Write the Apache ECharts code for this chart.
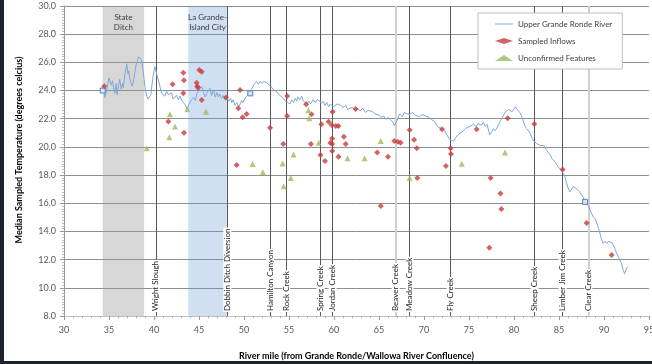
<!DOCTYPE html>
<html>
<head>
<meta charset="utf-8">
<script src="https://cdn.jsdelivr.net/npm/echarts@6/dist/echarts.min.js"></script>
<style>
html,body{margin:0;padding:0;background:#1d2329;width:652px;height:364px;overflow:hidden;}
#c{position:absolute;left:4px;top:0;width:648px;height:361px;background:#fff;}
</style>
</head>
<body>
<div id="c"></div>
<script>
// River profile (river mile, median temperature)
const riverMile = [
34.3,34.45,34.55,34.7,34.85,35.0,35.1,35.25,35.4,35.5,
35.65,35.8,35.9,36.05,36.2,36.35,36.5,36.6,36.75,36.9,
36.97,37.1,37.2,37.3,37.45,37.6,37.7,37.85,38.0,38.15,
38.3,38.4,38.5,38.6,38.75,38.9,39.05,39.2,39.35,39.5,
39.65,39.75,39.9,40.0,40.1,40.25,40.4,40.5,40.7,40.85,
41.0,41.2,41.4,41.6,41.8,41.95,42.1,42.3,42.5,42.7,
42.9,43.1,43.25,43.4,43.55,43.7,43.9,44.05,44.2,44.4,
44.6,44.75,44.9,45.1,45.3,45.5,45.7,45.85,46.0,46.2,
46.4,46.6,46.8,47.0,47.15,47.3,47.5,47.7,47.9,48.1,
48.3,48.5,48.65,48.8,49.0,49.2,49.4,49.6,49.75,49.9,
50.1,50.3,50.5,50.7,50.85,51.0,51.2,51.4,51.6,51.8,
52.0,52.2,52.5,52.7,52.9,53.1,53.3,53.6,53.8,54.0,
54.2,54.4,54.6,54.8,55.1,55.3,55.5,55.7,55.85,56.0,
56.2,56.4,56.6,56.8,57.0,57.2,57.4,57.7,57.9,58.1,
58.4,58.6,58.8,59.0,59.2,59.4,59.6,59.9,60.1,60.4,
60.7,61.0,61.3,61.5,61.8,62.1,62.4,62.6,62.9,63.2,
63.5,63.8,64.0,64.3,64.5,64.7,65.0,65.2,65.5,65.8,
66.0,66.2,66.5,66.7,66.85,67.0,67.3,67.6,67.8,68.1,
68.4,68.7,69.0,69.2,69.5,69.8,70.0,70.3,70.6,70.8,
71.0,71.2,71.4,71.6,71.8,72.1,72.3,72.5,72.7,72.9,
73.1,73.3,73.5,73.7,74.0,74.2,74.4,74.7,74.9,75.1,
75.3,75.5,75.8,76.0,76.2,76.4,76.6,76.8,77.0,77.2,
77.3,77.5,77.7,77.9,78.1,78.3,78.5,78.8,79.0,79.2,
79.4,79.6,79.8,80.0,80.2,80.3,80.5,80.7,80.85,81.0,
81.2,81.4,81.6,81.8,82.0,82.2,82.5,82.7,82.9,83.1,
83.3,83.6,83.8,84.0,84.2,84.4,84.6,84.9,85.1,85.3,
85.5,85.7,85.85,86.0,86.2,86.4,86.6,86.8,87.0,87.3,
87.5,87.7,87.9,88.1,88.3,88.4,88.6,88.8,89.0,89.2,
89.4,89.6,89.75,89.9,90.1,90.3,90.5,90.7,90.9,91.0,
91.2,91.4,91.6,91.8,91.96,92.1,92.3,92.5,92.7
];
const riverTemp = [
24.0,24.3,23.5,23.9,24.4,24.9,25.0,24.4,24.7,24.2,
23.8,24.5,23.7,24.3,24.8,24.1,24.5,24.2,25.1,25.6,
25.9,25.2,25.4,24.9,24.5,24.3,24.6,25.2,25.8,26.1,
26.4,26.3,26.5,26.2,25.6,24.8,24.0,23.6,23.4,23.3,
23.7,24.3,25.0,25.4,25.7,25.3,24.9,24.7,24.2,23.8,
23.9,23.6,23.95,23.7,23.6,23.85,23.4,23.3,23.65,23.35,
23.6,23.25,23.35,23.05,22.95,22.7,23.05,22.95,23.35,23.5,
23.3,23.75,23.85,24.15,24.3,23.85,23.55,23.8,23.75,24.15,
23.65,24.05,23.55,23.85,23.55,23.75,23.45,23.65,23.35,23.5,
23.25,23.45,23.15,23.35,22.95,23.15,22.85,23.05,23.3,23.15,
23.45,23.6,23.5,23.8,24.1,24.3,24.5,24.65,24.45,24.65,
24.5,24.65,24.55,24.5,24.35,24.25,24.05,23.95,23.75,23.75,
23.55,23.6,23.25,23.25,23.05,23.35,23.15,23.45,23.25,23.55,
23.35,23.6,23.25,23.25,23.05,23.25,23.05,23.35,23.15,23.35,
23.25,23.1,23.25,22.95,23.15,22.85,23.05,22.85,22.95,23.05,
22.95,22.8,22.95,22.65,22.75,22.8,22.55,22.75,22.55,22.75,
22.45,22.6,22.55,22.5,22.35,22.45,22.25,22.1,22.2,21.95,
22.1,21.95,21.8,21.5,21.4,21.9,22.35,22.15,22.45,22.35,
22.3,22.45,22.25,22.35,22.15,22.3,22.2,22.15,22.1,21.95,
22.0,21.8,21.55,21.4,21.45,21.25,21.1,20.97,20.7,20.5,
20.4,20.4,20.65,20.8,20.97,21.05,21.15,21.35,21.3,21.45,
21.5,21.6,21.45,21.65,21.7,21.55,21.75,21.45,21.6,21.1,
20.85,21.05,21.3,21.15,21.35,21.6,21.85,22.2,22.45,22.5,
22.65,22.55,22.5,22.7,22.85,22.7,22.6,22.4,22.3,21.9,
21.5,21.3,21.2,20.97,20.6,20.4,20.25,20.35,20.1,20.2,
20.1,19.8,19.6,19.45,19.2,19.1,18.9,18.6,18.5,18.3,
18.1,17.8,17.4,17.1,16.8,17.0,17.2,17.2,17.0,16.8,
16.6,16.4,16.1,16.0,15.8,15.6,15.3,15.05,14.9,14.6,
14.2,13.75,13.4,13.15,13.3,13.15,13.3,13.4,13.2,13.15,
12.8,12.45,12.2,11.9,11.7,11.3,11.0,11.4,11.5
];
const riverMarkedMiles = [34.3, 50.7, 87.9];

// Sampled inflows [river mile, temperature]
const inflowMile = [34.48,41.6,42.07,43.26,43.33,43.26,43.33,44.74,44.8,44.9,
45.03,45.3,45.3,48.0,49.19,49.37,49.56,49.85,50.3,52.9,
54.37,54.8,54.8,56.9,57.44,57.5,58.5,58.6,59.0,59.4,
59.6,59.74,59.8,59.8,59.8,59.85,60.2,60.5,60.5,61.1,
61.3,62.4,64.8,65.2,66.0,66.7,67.1,67.4,68.4,68.9,
69.2,69.26,72.0,72.44,72.96,73.0,75.85,77.26,77.4,78.5,
78.6,79.3,82.26,85.4,88.07,90.85];
const inflowTemp = [24.3,21.8,24.44,25.27,24.73,23.8,21.0,24.56,24.3,24.2,
25.46,25.34,23.33,23.5,18.72,22.74,24.04,22.1,22.33,21.36,
20.2,23.61,22.19,23.02,20.2,22.31,19.43,21.6,19.0,21.79,
20.3,21.55,20.6,20.2,19.71,22.5,21.48,21.48,19.3,20.72,
20.2,22.69,19.6,15.8,19.3,20.42,20.37,20.3,21.2,20.5,
19.9,17.8,21.25,18.64,19.9,19.5,21.25,12.85,17.8,16.7,
15.6,22.03,21.63,18.4,14.6,12.33];

// Unconfirmed features
const unconfMile = [39.19,41.7,41.78,42.33,43.7,45.78,50.96,52.1,54.3,54.4,
55.2,55.5,57.15,57.26,58.3,61.5,63.4,65.2,68.4,74.2,79.0];
const unconfTemp = [19.9,20.68,22.31,21.44,22.67,22.5,18.79,18.2,18.83,17.2,
17.8,19.47,22.6,22.03,20.3,19.2,19.2,20.42,17.8,18.8,19.6];

// Named tributaries / features along the river
const featureNames = ['Wright Slough','Dobbin Ditch Diversion','Hamilton Canyon','Rock Creek','Spring Creek','Jordan Creek','Beaver Creek','Meadow Creek','Fly Creek','Sheep Creek','Limber Jim Creek','Clear Creek'];
const featureMiles = [40.2,48.15,52.9,54.7,58.5,59.85,66.85,68.4,72.96,82.3,85.4,88.26];
const faintFeatures = ['Beaver Creek','Clear Creek'];

// Reaches shaded
const reachNames = ['State\nDitch','La Grande-\nIsland City'];
const reachStart = [34.3, 43.8];
const reachEnd = [38.9, 48.1];
const reachColors = ['rgba(150,150,150,0.38)','rgba(100,150,210,0.3)'];

const FONT = 'Lato, "Open Sans", sans-serif';

const riverData = riverMile.map((m, i) => {
  if (riverMarkedMiles.indexOf(m) >= 0) {
    return {value: [m, riverTemp[i]], symbol: 'rect', symbolSize: 5,
      itemStyle: {color: '#dbe5f1', borderColor: '#4f81bd', borderWidth: 1}};
  }
  return [m, riverTemp[i]];
});

const chart = echarts.init(document.getElementById('c'), null, {renderer: 'canvas'});
chart.setOption({
  animation: false,
  textStyle: {fontFamily: FONT},
  grid: {left: 60, right: 3, top: 6, bottom: 45, containLabel: false, outerBoundsMode: 'none'},
  legend: {
    z: 20, zlevel: 0,
    data: [
      {name: 'Upper Grande Ronde River', icon: 'path://M0,0h20v1h-20z', itemStyle: {color: '#7ea6d8'}},
      {name: 'Sampled Inflows'},
      {name: 'Unconfirmed Features'}
    ],
    orient: 'vertical', left: 474, top: 13,
    backgroundColor: '#fff', borderColor: '#bfbfbf', borderWidth: 1,
    padding: [7, 10, 7, 17], itemGap: 9, itemWidth: 18, itemHeight: 6,
    textStyle: {fontSize: 8, color: '#404040', fontFamily: FONT, width: 90, overflow: 'none'}
  },
  xAxis: {
    type: 'value', min: 30, max: 95, interval: 5,
    name: 'River mile (from Grande Ronde/Wallowa River Confluence)',
    nameLocation: 'middle', nameGap: 36,
    nameTextStyle: {fontSize: 9, fontWeight: 'bold', color: '#000', fontFamily: FONT},
    axisLine: {lineStyle: {color: '#bfbfbf'}},
    axisTick: {show: true, length: 4, lineStyle: {color: '#999'}},
    minorTick: {show: true, splitNumber: 5, length: 2, lineStyle: {color: '#aaa'}},
    axisLabel: {fontSize: 9, color: '#595959', margin: 10, fontFamily: FONT},
    splitLine: {show: false}
  },
  yAxis: {
    type: 'value', min: 8, max: 30, interval: 2,
    name: 'Median Sampled Temperature (degrees celcius)',
    nameLocation: 'middle', nameGap: 40,
    nameTextStyle: {fontSize: 9, fontWeight: 'bold', color: '#000', fontFamily: FONT, padding: [0, 0, 0, 22]},
    axisLine: {show: true, lineStyle: {color: '#999'}},
    axisTick: {show: true, length: 4, lineStyle: {color: '#999'}},
    minorTick: {show: true, splitNumber: 10, length: 2, lineStyle: {color: '#bbb'}},
    axisLabel: {fontSize: 9, color: '#595959', margin: 8, fontFamily: FONT,
      formatter: v => v.toFixed(1)},
    splitLine: {show: true, lineStyle: {color: '#8f8f8f', width: 1}}
  },
  series: [
    {
      name: 'reaches', type: 'line', data: [], z: 1, silent: true,
      markArea: {
        silent: true,
        label: {position: 'insideTop', distance: 6, fontSize: 8, color: '#404040',
          lineHeight: 10, fontFamily: FONT},
        data: reachNames.map((n, i) => [
          {xAxis: reachStart[i], name: n, itemStyle: {color: reachColors[i]}},
          {xAxis: reachEnd[i]}
        ])
      }
    },
    {
      name: 'features', type: 'line', data: [], z: 2, silent: true,
      markLine: {
        silent: true, symbol: ['none', 'none'], animation: false, z: 2,
        label: {show: true, position: 'insideStart', distance: [4, 0],
          formatter: p => p.name, fontSize: 8, color: '#262626',
          backgroundColor: '#fff', padding: [0, 1], fontFamily: FONT},
        data: featureNames.map((n, i) => [
          {coord: [featureMiles[i], 8], name: n,
            lineStyle: faintFeatures.indexOf(n) >= 0
              ? {color: '#d0d0d0', width: 2, type: 'solid'}
              : {color: '#595959', width: 1, type: 'solid'}},
          {coord: [featureMiles[i], 30]}
        ])
      }
    },
    {
      name: 'Upper Grande Ronde River', type: 'line', z: 3,
      symbol: 'none', showSymbol: true,
      lineStyle: {color: '#7ea6d8', width: 1},
      itemStyle: {color: '#7ea6d8'},
      data: riverData
    },
    {
      name: 'Sampled Inflows', type: 'scatter', z: 4,
      symbol: 'diamond', symbolSize: 6,
      itemStyle: {color: '#c83c3c'},
      data: inflowMile.map((m, i) => [m, inflowTemp[i]])
    },
    {
      name: 'Unconfirmed Features', type: 'scatter', z: 4,
      symbol: 'triangle', symbolSize: 6,
      itemStyle: {color: '#9bbb59'},
      data: unconfMile.map((m, i) => [m, unconfTemp[i]])
    }
  ]
});
</script>
</body>
</html>
